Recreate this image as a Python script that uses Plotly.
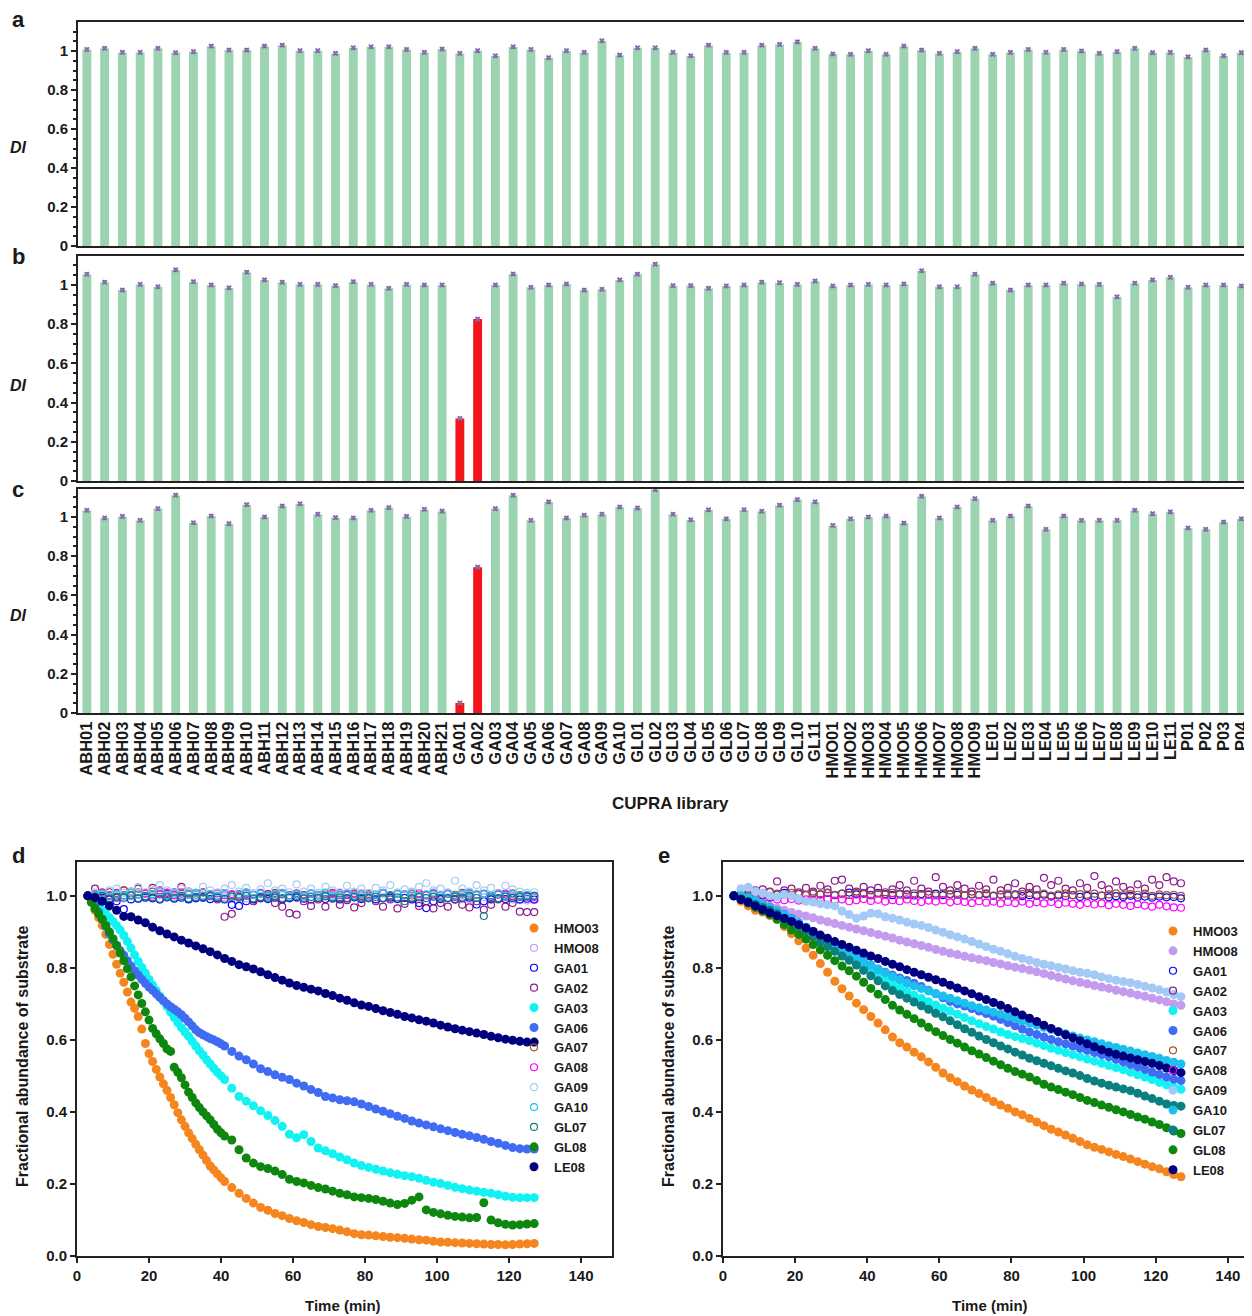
import plotly.graph_objects as go

# ---- CUPRA library screen (panels a-c) ----
library = [
    "ABH01", "ABH02", "ABH03", "ABH04", "ABH05", "ABH06", "ABH07", "ABH08", "ABH09", "ABH10",
    "ABH11", "ABH12", "ABH13", "ABH14", "ABH15", "ABH16", "ABH17", "ABH18", "ABH19", "ABH20",
    "ABH21",
    "GA01", "GA02", "GA03", "GA04", "GA05", "GA06", "GA07", "GA08", "GA09", "GA10",
    "GL01", "GL02", "GL03", "GL04", "GL05", "GL06", "GL07", "GL08", "GL09", "GL10", "GL11",
    "HMO01", "HMO02", "HMO03", "HMO04", "HMO05", "HMO06", "HMO07", "HMO08", "HMO09",
    "LE01", "LE02", "LE03", "LE04", "LE05", "LE06", "LE07", "LE08", "LE09", "LE10", "LE11",
    "P01", "P02", "P03", "P04",
]

di_a = [
    1.008, 1.014, 0.993, 0.993, 1.014, 0.992, 0.997, 1.025, 1.005, 1.005,
    1.025, 1.030, 1.002, 1.002, 0.988, 1.017, 1.022, 1.022, 1.008, 0.993,
    1.010,
    0.988, 1.002, 0.976, 1.022, 1.008, 0.966, 1.002, 0.993, 1.053, 0.979,
    1.017, 1.017, 0.993, 0.976, 1.030, 0.993, 0.993, 1.030, 1.034, 1.047, 1.014,
    0.985, 0.983, 1.002, 0.983, 1.025, 1.005, 0.988, 0.997, 1.014,
    0.983, 0.993, 1.008, 0.993, 1.008, 1.000, 0.988, 0.997, 1.014, 0.992, 0.993,
    0.970, 1.005, 0.976, 0.992,
]
di_b = [
    1.055, 1.014, 0.974, 1.003, 0.991, 1.077, 1.017, 1.000, 0.986, 1.065,
    1.026, 1.014, 1.003, 1.003, 0.997, 1.017, 1.003, 0.983, 1.003, 1.000,
    1.000,
    0.319, 0.826, 1.000, 1.056, 0.988, 1.000, 1.005, 0.974, 0.978, 1.026,
    1.055, 1.106, 0.997, 0.997, 0.983, 0.995, 1.000, 1.014, 1.012, 1.003, 1.020,
    0.995, 1.000, 1.003, 1.000, 1.005, 1.073, 0.991, 0.991, 1.055,
    1.009, 0.974, 1.000, 1.000, 1.009, 1.005, 1.003, 0.940, 1.009, 1.026, 1.039,
    0.988, 1.000, 1.000, 0.995,
]
di_c = [
    1.034, 0.995, 1.003, 0.983, 1.043, 1.111, 0.971, 1.005, 0.966, 1.063,
    1.000, 1.056, 1.068, 1.014, 0.997, 0.995, 1.034, 1.048, 1.003, 1.039,
    1.030,
    0.051, 0.744, 1.043, 1.111, 0.983, 1.077, 0.995, 1.009, 1.014, 1.051,
    1.046, 1.140, 1.014, 0.986, 1.037, 0.991, 1.037, 1.029, 1.060, 1.089, 1.077,
    0.957, 0.991, 1.000, 1.005, 0.969, 1.106, 0.995, 1.051, 1.094,
    0.983, 1.005, 1.056, 0.937, 1.005, 0.983, 0.983, 0.983, 1.034, 1.017, 1.026,
    0.944, 0.937, 0.974, 0.991,
]

# ---- time courses (panels d, e) ----
time_min = [
    3, 5, 7, 9, 11, 13, 15, 17, 19, 21,
    23, 25, 27, 29, 31, 33, 35, 37, 39, 41,
    43, 45, 47, 49, 51, 53, 55, 57, 59, 61,
    63, 65, 67, 69, 71, 73, 75, 77, 79, 81,
    83, 85, 87, 89, 91, 93, 95, 97, 99, 101,
    103, 105, 107, 109, 111, 113, 115, 117, 119, 121,
    123, 125, 127,
]
# finer sampling where the fast decays in panel d are steep
time_fast = [
    3, 4, 5, 6, 7, 8, 9, 10, 11, 12, 13, 14, 15, 16, 17, 18, 19, 20, 21, 22,
    23, 24, 25, 26, 27, 28, 29, 30, 31, 32, 33, 34, 35, 36, 37, 38, 39, 40, 41,
    43, 45, 47, 49, 51, 53, 55, 57, 59, 61,
    63, 65, 67, 69, 71, 73, 75, 77, 79, 81,
    83, 85, 87, 89, 91, 93, 95, 97, 99, 101,
    103, 105, 107, 109, 111, 113, 115, 117, 119, 121,
    123, 125, 127,
]

# panel d
d_hmo03 = [
    1.000, 0.982, 0.960, 0.940, 0.918, 0.893, 0.865, 0.838, 0.810, 0.785,
    0.760, 0.733, 0.705, 0.688, 0.665, 0.630, 0.590, 0.562, 0.540, 0.518,
    0.497, 0.478, 0.460, 0.440, 0.420, 0.398, 0.378, 0.360, 0.342, 0.326,
    0.310, 0.295, 0.280, 0.265, 0.250, 0.239, 0.228, 0.217, 0.207,
    0.190, 0.174, 0.160, 0.147, 0.135, 0.127, 0.118, 0.112, 0.104, 0.098,
    0.093, 0.087, 0.082, 0.079, 0.076, 0.072, 0.067, 0.062, 0.059, 0.058,
    0.056, 0.054, 0.052, 0.051, 0.049, 0.047, 0.045, 0.044, 0.041, 0.039,
    0.038, 0.037, 0.036, 0.035, 0.034, 0.033, 0.032, 0.032, 0.031, 0.032,
    0.033, 0.034, 0.035,
]
d_gl08 = [
    1.000, 0.982, 0.965, 0.950, 0.935, 0.918, 0.900, 0.881, 0.862, 0.841,
    0.820, 0.798, 0.775, 0.750, 0.725, 0.701, 0.678, 0.655, 0.632, 0.617,
    0.603, 0.590, 0.575, 0.568, 0.524, 0.510, 0.495, 0.475, 0.455, 0.440,
    0.425, 0.412, 0.400, 0.389, 0.378, 0.365, 0.352, 0.342, 0.333,
    0.322, 0.295, 0.272, 0.258, 0.248, 0.243, 0.236, 0.226, 0.213, 0.207,
    0.203, 0.196, 0.190, 0.186, 0.180, 0.174, 0.170, 0.164, 0.162, 0.160,
    0.157, 0.152, 0.147, 0.143, 0.146, 0.155, 0.164, 0.128, 0.121, 0.117,
    0.113, 0.110, 0.108, 0.106, 0.107, 0.148, 0.100, 0.092, 0.088, 0.086,
    0.087, 0.089, 0.090,
]
d_ga03 = [
    1.000, 0.990, 0.980, 0.970, 0.960, 0.950, 0.940, 0.929, 0.918, 0.905,
    0.890, 0.873, 0.855, 0.836, 0.818, 0.801, 0.785, 0.768, 0.752, 0.737,
    0.722, 0.708, 0.693, 0.677, 0.662, 0.648, 0.634, 0.622, 0.610, 0.596,
    0.583, 0.570, 0.558, 0.545, 0.533, 0.521, 0.510, 0.500, 0.490,
    0.466, 0.443, 0.430, 0.417, 0.403, 0.390, 0.376, 0.360, 0.338, 0.328,
    0.337, 0.318, 0.300, 0.292, 0.284, 0.275, 0.267, 0.258, 0.251, 0.246,
    0.241, 0.236, 0.231, 0.227, 0.223, 0.220, 0.216, 0.210, 0.205, 0.201,
    0.196, 0.191, 0.187, 0.183, 0.180, 0.177, 0.174, 0.170, 0.166, 0.163,
    0.162, 0.162, 0.162,
]
d_ga06 = [
    1.000, 0.990, 0.975, 0.955, 0.935, 0.915, 0.895, 0.878, 0.862, 0.848,
    0.835, 0.820, 0.805, 0.792, 0.780, 0.768, 0.757, 0.747, 0.738, 0.728,
    0.718, 0.709, 0.700, 0.692, 0.685, 0.678, 0.670, 0.660, 0.650, 0.639,
    0.628, 0.620, 0.614, 0.609, 0.604, 0.600, 0.595, 0.589, 0.583,
    0.568, 0.555, 0.545, 0.533, 0.520, 0.512, 0.503, 0.496, 0.490, 0.480,
    0.472, 0.462, 0.454, 0.443, 0.439, 0.434, 0.431, 0.428, 0.422, 0.415,
    0.408, 0.402, 0.395, 0.388, 0.382, 0.375, 0.369, 0.364, 0.359, 0.353,
    0.348, 0.343, 0.338, 0.334, 0.329, 0.324, 0.318, 0.313, 0.307, 0.301,
    0.298, 0.297, 0.297,
]
d_hmo08 = [
    1.000, 0.995, 0.998, 0.990, 0.996, 0.993, 0.999, 0.992, 0.997, 0.994,
    0.990, 0.996, 0.993, 0.998, 0.991, 0.995, 0.997, 0.990, 0.994, 0.996,
    0.992, 0.998, 0.993, 0.990, 0.996, 0.994, 0.999, 0.991, 0.995, 0.993,
    0.997, 0.990, 0.994, 0.998, 0.992, 0.995, 0.990, 0.996, 0.993, 0.997,
    0.991, 0.995, 0.998, 0.992, 0.994, 0.990, 0.996, 0.993, 0.997, 0.991,
    0.995, 0.992, 0.998, 0.990, 0.994, 0.996, 0.991, 0.993, 0.997, 0.990,
    0.988, 0.987, 0.988,
]
d_ga01 = [
    1.000, 0.998, 0.995, 0.990, 0.985, 0.963, 0.990, 0.992, 0.995, 0.993,
    0.990, 0.996, 0.992, 0.995, 0.990, 0.993, 0.996, 0.991, 0.994, 0.990,
    0.975, 0.972, 0.985, 0.990, 0.993, 0.991, 0.995, 0.990, 0.993, 0.996,
    0.992, 0.990, 0.994, 0.991, 0.995, 0.990, 0.993, 0.996, 0.991, 0.994,
    0.990, 0.993, 0.995, 0.991, 0.994, 0.990, 0.980, 0.966, 0.985, 0.991,
    0.994, 0.990, 0.993, 0.995, 0.976, 0.985, 0.990, 0.993, 0.991, 0.994,
    0.990, 0.992, 0.990,
]
d_ga02 = [
    1.000, 1.020, 1.005, 1.010, 0.995, 1.015, 1.012, 1.020, 1.008, 1.022,
    1.015, 1.005, 1.010, 1.025, 1.012, 1.005, 1.010, 1.000, 0.990, 0.942,
    0.950, 0.998, 1.008, 0.985, 0.995, 1.005, 0.980, 0.970, 0.952, 0.948,
    0.985, 0.972, 0.990, 0.970, 0.995, 0.975, 0.988, 0.968, 0.980, 0.995,
    0.985, 0.970, 0.990, 0.965, 0.978, 0.995, 0.972, 0.985, 0.965, 0.980,
    0.970, 0.990, 0.975, 0.968, 0.985, 0.962, 0.975, 0.990, 0.970, 0.980,
    0.956, 0.955, 0.955,
]
d_ga07 = [
    1.000, 1.005, 1.010, 1.002, 1.008, 1.015, 1.003, 1.010, 1.006, 1.012,
    1.004, 1.008, 1.002, 1.010, 1.006, 1.003, 1.009, 1.004, 1.000, 1.007,
    1.002, 1.005, 1.009, 1.003, 1.006, 1.001, 1.008, 1.004, 1.002, 1.007,
    1.003, 1.006, 1.001, 1.005, 1.008, 1.002, 1.004, 1.007, 1.001, 1.005,
    1.003, 1.008, 1.002, 1.006, 1.004, 1.001, 1.007, 1.003, 1.005, 1.002,
    1.006, 1.003, 1.008, 1.001, 1.004, 1.006, 1.002, 1.005, 1.003, 1.007,
    1.002, 1.000, 1.000,
]
d_ga08 = [
    1.000, 1.003, 1.008, 1.000, 1.006, 1.002, 1.010, 1.004, 1.007, 1.001,
    1.005, 1.009, 1.002, 1.006, 1.003, 1.008, 1.000, 1.004, 1.007, 1.002,
    1.005, 1.001, 1.006, 1.003, 1.008, 1.000, 1.004, 1.007, 1.002, 1.005,
    1.001, 1.006, 1.003, 1.000, 1.005, 1.008, 1.002, 1.004, 1.006, 1.001,
    1.003, 1.007, 1.000, 1.005, 1.002, 1.006, 1.004, 1.001, 1.007, 1.003,
    1.005, 1.000, 1.004, 1.006, 1.002, 1.005, 1.001, 1.003, 1.006, 1.000,
    0.998, 0.997, 0.996,
]
d_ga09 = [
    1.000, 1.010, 1.005, 1.015, 1.020, 1.008, 1.012, 1.025, 1.010, 1.018,
    1.030, 1.015, 1.008, 1.020, 1.012, 1.005, 1.025, 1.015, 1.010, 1.020,
    1.030, 1.012, 1.022, 1.008, 1.018, 1.035, 1.015, 1.020, 1.010, 1.032,
    1.012, 1.020, 1.008, 1.025, 1.015, 1.010, 1.028, 1.012, 1.020, 1.008,
    1.022, 1.015, 1.030, 1.010, 1.018, 1.012, 1.025, 1.035, 1.015, 1.020,
    1.010, 1.042, 1.020, 1.012, 1.030, 1.015, 1.022, 1.008, 1.028, 1.018,
    1.012, 1.008, 1.010,
]
d_ga10 = [
    1.000, 1.002, 1.006, 0.998, 1.004, 1.000, 1.008, 1.003, 0.999, 1.005,
    1.010, 1.002, 1.006, 0.998, 1.004, 1.008, 1.001, 1.005, 1.000, 1.007,
    0.997, 1.003, 1.009, 1.002, 1.006, 1.000, 1.004, 1.008, 1.001, 1.005,
    0.999, 1.006, 1.002, 1.009, 1.000, 1.004, 1.007, 1.001, 1.005, 0.998,
    1.003, 1.008, 1.000, 1.005, 1.002, 1.007, 0.999, 1.004, 1.009, 1.001,
    1.006, 1.000, 1.004, 1.008, 1.002, 1.005, 0.999, 1.006, 1.001, 1.004,
    1.000, 1.002, 1.000,
]
d_gl07 = [
    1.000, 0.996, 1.000, 0.993, 0.998, 0.995, 1.001, 0.994, 0.999, 0.996,
    0.992, 0.998, 0.995, 1.000, 0.993, 0.997, 0.994, 0.999, 0.996, 0.992,
    0.998, 0.995, 1.000, 0.993, 0.997, 0.995, 0.999, 0.994, 0.996, 1.000,
    0.993, 0.997, 0.995, 0.999, 0.992, 0.996, 0.994, 0.998, 0.995, 0.993,
    0.997, 0.994, 0.999, 0.996, 0.985, 0.993, 0.997, 0.994, 0.998, 0.995,
    0.993, 0.997, 0.995, 0.999, 0.994, 0.944, 0.996, 0.993, 0.998, 0.995,
    0.997, 0.999, 1.000,
]
d_le08 = [
    1.000, 0.995, 0.985, 0.972, 0.960, 0.943, 0.942, 0.933, 0.925, 0.913,
    0.903, 0.894, 0.886, 0.877, 0.869, 0.861, 0.853, 0.845, 0.836, 0.826,
    0.818, 0.809, 0.803, 0.797, 0.789, 0.781, 0.773, 0.766, 0.758, 0.751,
    0.746, 0.741, 0.736, 0.729, 0.723, 0.716, 0.710, 0.703, 0.697, 0.693,
    0.687, 0.681, 0.676, 0.671, 0.665, 0.661, 0.656, 0.652, 0.647, 0.641,
    0.636, 0.631, 0.627, 0.623, 0.619, 0.615, 0.610, 0.606, 0.602, 0.599,
    0.596, 0.594, 0.594,
]

# panel e
e_hmo03 = [
    1.000, 0.985, 0.972, 0.960, 0.955, 0.945, 0.935, 0.915, 0.895, 0.875,
    0.855, 0.835, 0.812, 0.788, 0.763, 0.742, 0.722, 0.702, 0.684, 0.665,
    0.647, 0.628, 0.608, 0.592, 0.580, 0.566, 0.553, 0.539, 0.524, 0.508,
    0.495, 0.484, 0.472, 0.461, 0.451, 0.440, 0.429, 0.419, 0.410, 0.400,
    0.392, 0.382, 0.372, 0.362, 0.352, 0.344, 0.336, 0.327, 0.318, 0.309,
    0.302, 0.296, 0.289, 0.282, 0.276, 0.269, 0.262, 0.255, 0.248, 0.242,
    0.234, 0.226, 0.220,
]
e_hmo08 = [
    1.000, 0.993, 0.988, 0.984, 0.978, 0.972, 0.966, 0.960, 0.954, 0.949,
    0.944, 0.939, 0.933, 0.928, 0.923, 0.918, 0.913, 0.908, 0.903, 0.898,
    0.893, 0.888, 0.883, 0.877, 0.872, 0.867, 0.862, 0.857, 0.851, 0.846,
    0.841, 0.837, 0.832, 0.828, 0.824, 0.820, 0.815, 0.811, 0.806, 0.802,
    0.798, 0.794, 0.789, 0.784, 0.779, 0.774, 0.769, 0.764, 0.760, 0.756,
    0.751, 0.747, 0.743, 0.738, 0.734, 0.730, 0.725, 0.721, 0.716, 0.711,
    0.706, 0.700, 0.696,
]
e_ga01 = [
    1.000, 1.003, 0.998, 1.005, 1.001, 0.997, 1.004, 1.008, 1.002, 1.006,
    1.003, 1.007, 1.004, 1.008, 1.002, 1.006, 1.009, 1.004, 1.007, 1.003,
    1.008, 1.005, 1.002, 1.006, 1.004, 1.001, 1.005, 1.003, 1.006, 1.002,
    1.005, 1.003, 1.001, 1.004, 1.002, 1.005, 1.000, 1.003, 1.001, 1.004,
    0.999, 1.002, 1.000, 1.003, 0.998, 1.001, 0.999, 1.002, 0.997, 1.000,
    0.998, 1.001, 0.996, 0.999, 0.997, 1.000, 0.996, 0.998, 0.995, 0.998,
    0.996, 0.997, 0.993,
]
e_ga02 = [
    1.000, 1.010, 1.005, 1.015, 1.018, 1.012, 1.040, 1.015, 1.020, 1.010,
    1.022, 1.012, 1.028, 1.018, 1.042, 1.045, 1.020, 1.012, 1.025, 1.015,
    1.022, 1.010, 1.018, 1.030, 1.015, 1.042, 1.020, 1.012, 1.052, 1.025,
    1.015, 1.030, 1.020, 1.012, 1.028, 1.018, 1.045, 1.015, 1.022, 1.035,
    1.012, 1.025, 1.018, 1.050, 1.030, 1.042, 1.020, 1.015, 1.035, 1.022,
    1.055, 1.030, 1.018, 1.040, 1.025, 1.015, 1.032, 1.020, 1.045, 1.030,
    1.052, 1.040, 1.035,
]
e_ga03 = [
    1.000, 1.000, 0.995, 0.985, 0.975, 0.965, 0.955, 0.945, 0.935, 0.925,
    0.912, 0.898, 0.884, 0.870, 0.856, 0.842, 0.829, 0.816, 0.803, 0.790,
    0.777, 0.766, 0.755, 0.745, 0.735, 0.724, 0.715, 0.706, 0.697, 0.688,
    0.680, 0.671, 0.662, 0.653, 0.645, 0.637, 0.630, 0.622, 0.615, 0.609,
    0.604, 0.598, 0.591, 0.584, 0.577, 0.571, 0.565, 0.559, 0.553, 0.547,
    0.541, 0.535, 0.529, 0.523, 0.517, 0.510, 0.503, 0.497, 0.490, 0.482,
    0.475, 0.469, 0.463,
]
e_ga06 = [
    1.000, 1.005, 1.000, 0.990, 0.978, 0.968, 0.958, 0.948, 0.937, 0.925,
    0.913, 0.901, 0.889, 0.877, 0.865, 0.853, 0.842, 0.831, 0.820, 0.808,
    0.797, 0.788, 0.780, 0.772, 0.765, 0.757, 0.748, 0.738, 0.728, 0.717,
    0.707, 0.700, 0.694, 0.687, 0.680, 0.673, 0.666, 0.657, 0.648, 0.639,
    0.630, 0.622, 0.615, 0.608, 0.601, 0.595, 0.589, 0.583, 0.577, 0.571,
    0.565, 0.559, 0.553, 0.546, 0.539, 0.532, 0.525, 0.518, 0.511, 0.504,
    0.497, 0.491, 0.487,
]
e_ga07 = [
    1.000, 1.005, 1.002, 1.008, 1.004, 1.010, 1.006, 1.003, 1.008, 1.005,
    1.002, 1.007, 1.004, 1.009, 1.003, 1.006, 1.002, 1.008, 1.005, 1.001,
    1.006, 1.003, 1.008, 1.004, 1.002, 1.007, 1.003, 1.005, 1.001, 1.006,
    1.004, 1.008, 1.002, 1.005, 1.003, 1.007, 1.001, 1.004, 1.006, 1.002,
    1.005, 1.008, 1.003, 1.006, 1.001, 1.004, 1.007, 1.002, 1.005, 1.003,
    1.006, 1.001, 1.004, 1.007, 1.002, 1.005, 1.003, 1.006, 1.000, 1.004,
    1.002, 1.003, 1.000,
]
e_ga08 = [
    1.000, 0.998, 0.995, 0.993, 0.992, 0.994, 0.990, 0.988, 0.991, 0.987,
    0.990, 0.986, 0.989, 0.992, 0.987, 0.990, 0.985, 0.988, 0.991, 0.986,
    0.989, 0.984, 0.988, 0.985, 0.990, 0.986, 0.983, 0.987, 0.984, 0.988,
    0.982, 0.986, 0.983, 0.980, 0.985, 0.981, 0.984, 0.979, 0.983, 0.980,
    0.984, 0.978, 0.982, 0.979, 0.983, 0.977, 0.981, 0.978, 0.975, 0.980,
    0.976, 0.979, 0.974, 0.978, 0.975, 0.972, 0.977, 0.973, 0.970, 0.975,
    0.971, 0.968, 0.967,
]
e_ga09 = [
    1.000, 1.020, 1.024, 1.012, 1.008, 1.000, 0.997, 1.004, 1.000, 0.992,
    0.985, 0.983, 0.978, 0.975, 0.972, 0.958, 0.948, 0.938, 0.944, 0.952,
    0.950, 0.942, 0.938, 0.933, 0.927, 0.922, 0.918, 0.912, 0.905, 0.899,
    0.892, 0.886, 0.880, 0.873, 0.866, 0.859, 0.852, 0.846, 0.839, 0.832,
    0.826, 0.821, 0.815, 0.810, 0.806, 0.801, 0.797, 0.792, 0.788, 0.785,
    0.781, 0.775, 0.770, 0.766, 0.762, 0.759, 0.754, 0.749, 0.744, 0.739,
    0.733, 0.726, 0.720,
]
e_ga10 = [
    1.000, 1.000, 0.995, 0.987, 0.977, 0.967, 0.957, 0.946, 0.935, 0.924,
    0.912, 0.900, 0.888, 0.876, 0.864, 0.852, 0.840, 0.829, 0.818, 0.807,
    0.796, 0.786, 0.776, 0.767, 0.758, 0.750, 0.743, 0.736, 0.729, 0.722,
    0.716, 0.709, 0.702, 0.695, 0.689, 0.683, 0.677, 0.671, 0.665, 0.659,
    0.653, 0.647, 0.641, 0.635, 0.629, 0.623, 0.617, 0.611, 0.605, 0.600,
    0.595, 0.589, 0.584, 0.579, 0.574, 0.569, 0.564, 0.559, 0.554, 0.549,
    0.543, 0.538, 0.533,
]
e_gl07 = [
    1.000, 0.992, 0.985, 0.976, 0.968, 0.960, 0.950, 0.938, 0.926, 0.914,
    0.900, 0.886, 0.872, 0.859, 0.846, 0.833, 0.821, 0.808, 0.793, 0.778,
    0.764, 0.750, 0.737, 0.726, 0.716, 0.705, 0.695, 0.685, 0.674, 0.664,
    0.653, 0.642, 0.631, 0.621, 0.611, 0.601, 0.592, 0.583, 0.575, 0.566,
    0.558, 0.549, 0.542, 0.535, 0.528, 0.521, 0.514, 0.508, 0.501, 0.493,
    0.486, 0.480, 0.474, 0.469, 0.464, 0.459, 0.452, 0.444, 0.437, 0.430,
    0.422, 0.418, 0.416,
]
e_gl08 = [
    1.000, 0.990, 0.980, 0.968, 0.958, 0.948, 0.935, 0.920, 0.905, 0.893,
    0.880, 0.865, 0.850, 0.835, 0.820, 0.805, 0.792, 0.777, 0.760, 0.743,
    0.727, 0.712, 0.696, 0.683, 0.671, 0.659, 0.647, 0.635, 0.623, 0.612,
    0.601, 0.591, 0.580, 0.570, 0.561, 0.551, 0.541, 0.531, 0.521, 0.512,
    0.505, 0.497, 0.487, 0.477, 0.469, 0.462, 0.455, 0.448, 0.440, 0.432,
    0.426, 0.419, 0.413, 0.406, 0.400, 0.393, 0.386, 0.380, 0.372, 0.365,
    0.356, 0.347, 0.340,
]
e_le08 = [
    1.000, 0.990, 0.982, 0.972, 0.962, 0.953, 0.945, 0.937, 0.929, 0.920,
    0.911, 0.901, 0.891, 0.882, 0.873, 0.865, 0.857, 0.849, 0.841, 0.833,
    0.826, 0.818, 0.810, 0.803, 0.795, 0.788, 0.781, 0.774, 0.767, 0.760,
    0.752, 0.744, 0.736, 0.728, 0.720, 0.712, 0.704, 0.696, 0.687, 0.678,
    0.669, 0.660, 0.651, 0.641, 0.632, 0.623, 0.614, 0.606, 0.598, 0.589,
    0.581, 0.573, 0.566, 0.560, 0.555, 0.550, 0.545, 0.540, 0.535, 0.529,
    0.522, 0.515, 0.509,
]

FONT = "Liberation Sans, Arial, sans-serif"
INK = "#1a1a1a"
# the page body keeps its default 8px margin, so the figure is drawn 8px in from the corner
OFF = 8
W, H = 1252 - OFF, 1316 - OFF


def px_x(v):
    return (v - OFF) / W


def px_y(v):
    return 1 - (v - OFF) / H


fig = go.Figure()

# ---------- bar panels ----------
bar_panels = [("", di_a, (246, 22), 1.149), ("2", di_b, (481, 256), 1.148), ("3", di_c, (713, 489), 1.143)]
for sfx, vals, (ybot, ytop), ymax in bar_panels:
    cols = ["#F4141C" if v < 0.9 else "#9CD3B0" for v in vals]
    fig.add_trace(go.Bar(
        x=library, y=vals, marker=dict(color=cols, line=dict(width=0)),
        xaxis="x" + sfx, yaxis="y" + sfx, showlegend=False,
    ))
    fig.add_trace(go.Scatter(
        x=library, y=vals, mode="markers", xaxis="x" + sfx, yaxis="y" + sfx,
        marker=dict(symbol="x", size=5, color="#8A6CB0", line=dict(width=0)),
        error_y=dict(type="constant", value=0.006, color="#111", thickness=1, width=2),
        showlegend=False,
    ))
    last = sfx == "3"
    fig.layout["xaxis" + sfx] = dict(
        domain=[px_x(78), 1], anchor="y" + sfx, type="category",
        categoryorder="array", categoryarray=library, range=[-0.5, 65.6],
        tickmode="array", tickvals=library, ticktext=library,
        showline=True, mirror=True, linecolor="#222", linewidth=2,
        ticks="", showgrid=False, zeroline=False, automargin=False,
        showticklabels=last, tickangle=-90,
        tickfont=dict(family=FONT, size=16.5, color=INK, weight="bold"),
    )
    fig.layout["yaxis" + sfx] = dict(
        domain=[px_y(ybot), px_y(ytop)], anchor="x" + sfx, range=[0, ymax],
        tickvals=[0, 0.2, 0.4, 0.6, 0.8, 1], ticktext=["0", "0.2", "0.4", "0.6", "0.8", "1"],
        ticks="outside", ticklen=5, tickwidth=1.5, tickcolor="#222",
        minor=dict(ticks="outside", dtick=0.05, ticklen=3, tickcolor="#222", showgrid=False),
        showline=True, linecolor="#222", linewidth=2, showgrid=False, zeroline=False,
        automargin=False,
        tickfont=dict(family=FONT, size=15, color=INK, weight="bold"),
    )

# ---------- time-course panels ----------
d_series = [
    ("HMO03", time_fast, d_hmo03, "#F5861F", True), ("HMO08", time_min, d_hmo08, "#C9A6F2", False),
    ("GA01", time_min, d_ga01, "#0000FF", False), ("GA02", time_min, d_ga02, "#8B1A8B", False),
    ("GA03", time_fast, d_ga03, "#12F2F2", True), ("GA06", time_fast, d_ga06, "#3F6CF3", True),
    ("GA07", time_min, d_ga07, "#A0522D", False), ("GA08", time_min, d_ga08, "#FF00FF", False),
    ("GA09", time_min, d_ga09, "#A8CBF5", False), ("GA10", time_min, d_ga10, "#22C2EE", False),
    ("GL07", time_min, d_gl07, "#0A8080", False), ("GL08", time_fast, d_gl08, "#0E870E", True),
    ("LE08", time_min, d_le08, "#00007F", True),
]
e_series = [
    ("HMO03", time_min, e_hmo03, "#F5861F", True), ("HMO08", time_min, e_hmo08, "#C39BEF", True),
    ("GA01", time_min, e_ga01, "#0000FF", False), ("GA02", time_min, e_ga02, "#8B1A8B", False),
    ("GA03", time_min, e_ga03, "#12F2F2", True), ("GA06", time_min, e_ga06, "#3F6CF3", True),
    ("GA07", time_min, e_ga07, "#A0522D", False), ("GA08", time_min, e_ga08, "#FF00FF", False),
    ("GA09", time_min, e_ga09, "#A3C9F6", True), ("GA10", time_min, e_ga10, "#1CC0F0", True),
    ("GL07", time_min, e_gl07, "#0B8080", True), ("GL08", time_min, e_gl08, "#0E870E", True),
    ("LE08", time_min, e_le08, "#00007F", True),
]

for sfx, series, leg in [("4", d_series, "legend"), ("5", e_series, "legend2")]:
    for name, tt, vals, color, filled in series:
        if filled:
            mk = dict(symbol="circle", size=9, color=color, line=dict(width=0))
        else:
            mk = dict(symbol="circle-open", size=7, color=color, line=dict(width=1.2))
        fig.add_trace(go.Scatter(
            x=tt, y=vals, mode="markers", name=name, marker=mk,
            xaxis="x" + sfx, yaxis="y" + sfx, legend=leg,
        ))

tick_font = dict(family=FONT, size=15, color=INK, weight="bold")
for sfx, x0, x1, xmax, mirror_y in [("4", 77, 612, 148.6, True), ("5", 723, 1252, 146.7, False)]:
    fig.layout["xaxis" + sfx] = dict(
        domain=[px_x(x0), px_x(x1)], anchor="y" + sfx, range=[0, xmax],
        tickvals=[0, 20, 40, 60, 80, 100, 120, 140],
        ticks="outside", ticklen=5, tickwidth=1.5, tickcolor="#222",
        showline=True, mirror=True, linecolor="#222", linewidth=2,
        showgrid=False, zeroline=False, automargin=False, tickfont=tick_font,
    )
    fig.layout["yaxis" + sfx] = dict(
        domain=[px_y(1256), px_y(862)], anchor="x" + sfx, range=[0, 1.094],
        tickvals=[0, 0.2, 0.4, 0.6, 0.8, 1.0],
        ticktext=["0.0", "0.2", "0.4", "0.6", "0.8", "1.0"],
        ticks="outside", ticklen=5, tickwidth=1.5, tickcolor="#222",
        showline=True, mirror=mirror_y, linecolor="#222", linewidth=2,
        showgrid=False, zeroline=False, automargin=False, tickfont=tick_font,
    )

legend_style = dict(
    font=dict(family=FONT, size=13, color=INK, weight="bold"),
    bgcolor="rgba(0,0,0,0)", borderwidth=0, itemsizing="trace",
    xanchor="left", yanchor="top", tracegroupgap=0,
)

# ---------- text ----------
annots = []


def label(text, x, y, size, angle=0, italic=False):
    t = "<i>" + text + "</i>" if italic else text
    annots.append(dict(
        text=t, x=px_x(x), y=px_y(y), xref="paper", yref="paper",
        showarrow=False, xanchor="center", yanchor="middle", textangle=angle,
        font=dict(family=FONT, size=size, color=INK, weight="bold"),
    ))


for letter, lx, ly in [("a", 18, 20), ("b", 18, 256), ("c", 18, 489), ("d", 18, 855), ("e", 664, 855)]:
    label(letter, lx, ly, 22)
for dy in [148, 386, 615]:
    label("DI", 18, dy, 16, italic=True)
label("CUPRA library", 671, 803, 17)
label("Time (min)", 343, 1305, 15)
label("Time (min)", 990, 1305, 15)
label("Fractional abundance of substrate", 22, 1057, 16, angle=-90)
label("Fractional abundance of substrate", 668, 1057, 16, angle=-90)

fig.update_layout(
    width=W, height=H, margin=dict(l=0, r=0, t=0, b=0, autoexpand=False),
    paper_bgcolor="white", plot_bgcolor="white",
    bargap=0.5, annotations=annots,
    font=dict(family=FONT, color=INK),
    legend=dict(x=px_x(514), y=px_y(913), **legend_style),
    legend2=dict(x=px_x(1153), y=px_y(916), **legend_style),
)

fig.write_html("out.html")
